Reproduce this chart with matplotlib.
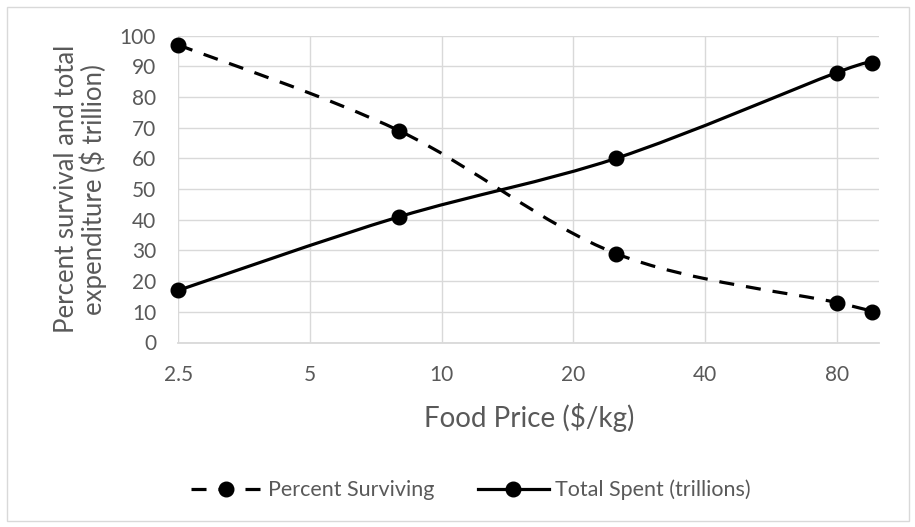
import numpy as np
import matplotlib
matplotlib.use("Agg")
import matplotlib.pyplot as plt
from matplotlib.patches import Rectangle, PathPatch
from matplotlib.path import Path
from matplotlib.lines import Line2D

# ---- data ----
food_price = [2.5, 8, 25, 80, 96]
percent_surviving = [97, 69, 29, 13, 10]
total_spent = [17, 41, 60, 88, 91]
x_ticks = [2.5, 5, 10, 20, 40, 80]
x_tick_labels = ["2.5", "5", "10", "20", "40", "80"]
y_ticks = list(range(0, 101, 10))
series_names = ["Percent Surviving", "Total Spent (trillions)"]

plt.rcParams['font.family'] = ['Lato', 'DejaVu Sans']
TXT = '#595959'
GRID = '#D9D9D9'
TICK_FS = 15

fig = plt.figure(figsize=(9.15, 5.27), dpi=100)
ax = fig.add_axes([178.3 / 915, 184.5 / 527, (879.3 - 178.3) / 915, (342.5 - 35.7) / 527])

ax.set_xscale('log', base=2)
ax.set_xlim(2.5, 100)
ax.set_ylim(0, 100)

ax.set_xticks(x_ticks)
ax.set_xticklabels(x_tick_labels)
ax.xaxis.set_minor_locator(matplotlib.ticker.NullLocator())
ax.set_yticks(y_ticks)
ax.tick_params(axis='both', length=0, labelsize=TICK_FS, labelcolor=TXT)
ax.tick_params(axis='x', pad=16)
ax.tick_params(axis='y', pad=16)
ax.grid(True, color=GRID, lw=1.0)
ax.set_axisbelow(True)
for s in ['top', 'right', 'left']:
    ax.spines[s].set_visible(False)
ax.spines['bottom'].set_color(GRID)
ax.spines['bottom'].set_linewidth(1.3)

ax.set_xlabel("Food Price ($/kg)", fontsize=20, color=TXT, labelpad=13)
ax.set_ylabel("Percent survival and total\nexpenditure ($ trillion)", fontsize=18.5,
              color=TXT, labelpad=9, linespacing=1.05)

fig.canvas.draw()


def smooth_path(xs, ys):
    pts = ax.transData.transform(np.column_stack([xs, ys]))
    n = len(pts)
    verts = [pts[0]]
    codes = [Path.MOVETO]
    for i in range(n - 1):
        p0 = pts[i - 1] if i > 0 else pts[i]
        p1 = pts[i]
        p2 = pts[i + 1]
        p3 = pts[i + 2] if i + 2 < n else pts[i + 1]
        c1 = p1 + (p2 - p0) / 6.0
        c2 = p2 - (p3 - p1) / 6.0
        verts += [c1, c2, p2]
        codes += [Path.CURVE4] * 3
    verts = ax.transData.inverted().transform(np.array(verts))
    return Path(verts, codes)


LW = 2.3
MS = 10.5
DASH = (0, (4.7, 3.75))
p1 = PathPatch(smooth_path(food_price, percent_surviving), fill=False, ec='black', lw=LW,
               linestyle=DASH, capstyle='butt', zorder=3)
ax.add_patch(p1)
p2 = PathPatch(smooth_path(food_price, total_spent), fill=False, ec='black', lw=LW,
               linestyle='-', zorder=3)
ax.add_patch(p2)
ax.plot(food_price, percent_surviving, 'o', color='black', ms=MS, zorder=4, clip_on=False)
ax.plot(food_price, total_spent, 'o', color='black', ms=MS, zorder=4, clip_on=False)

h1 = Line2D([], [], color='black', lw=LW, linestyle=DASH, marker='o', ms=MS,
            dash_capstyle='butt')
h2 = Line2D([], [], color='black', lw=LW, linestyle='-', marker='o', ms=MS)
leg = fig.legend([h1, h2], series_names, loc='center', bbox_to_anchor=(471 / 915, 37 / 527),
                 ncol=2, frameon=False, fontsize=15.5, handlelength=3.3, handletextpad=0.3,
                 columnspacing=2.0, labelcolor=TXT)

fig.patches.append(Rectangle((6.5 / 915, 6.5 / 527), 902 / 915, 514 / 527, transform=fig.transFigure,
                             fill=False, ec=GRID, lw=1.0))

fig.savefig('out.png', dpi=100, facecolor='white')
